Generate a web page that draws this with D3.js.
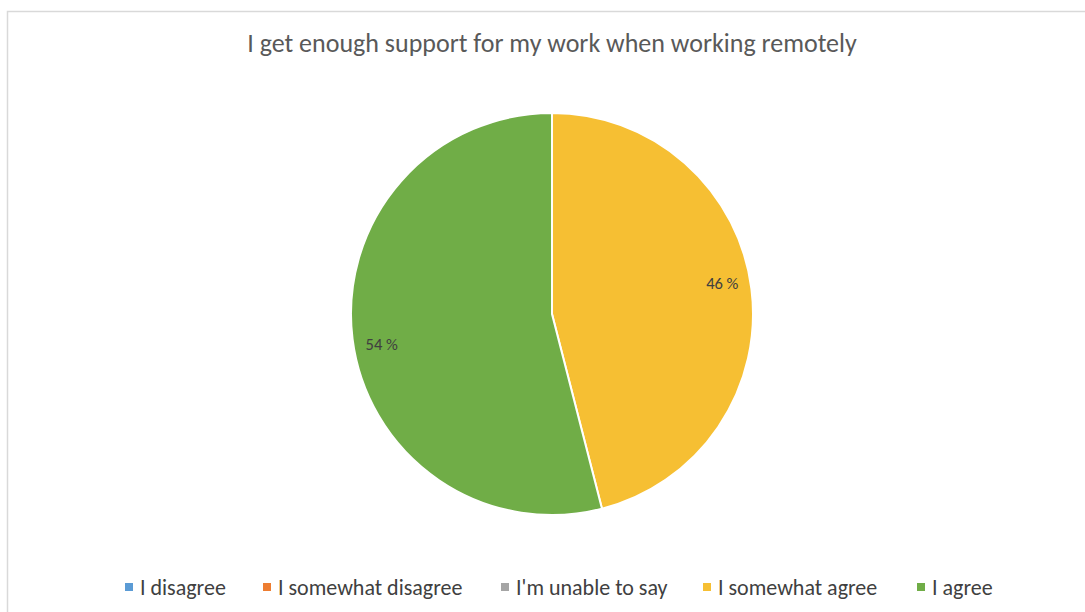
<!DOCTYPE html>
<html>
<head>
<meta charset="utf-8">
<script src="https://cdn.jsdelivr.net/npm/d3@7"></script>
<style>
  html, body { margin: 0; padding: 0; background: #fff; }
  svg { display: block; }
</style>
</head>
<body>
<svg id="chart" width="1085" height="612"></svg>
<script>
// Survey answers and their shares (%)
const categories = ["I disagree", "I somewhat disagree", "I'm unable to say", "I somewhat agree", "I agree"];
const shares = [0, 0, 0, 46, 54];
const colors = ["#5B9BD5", "#ED7D31", "#A5A5A5", "#F6BF33", "#70AD47"];
const title = "I get enough support for my work when working remotely";

const svg = d3.select("#chart");
const W = 1085, H = 612;
const font = "Carlito, 'Open Sans', 'Liberation Sans', sans-serif";

// chart area frame
svg.append("rect")
  .attr("x", 7.5).attr("y", 11.5)
  .attr("width", W + 10).attr("height", H + 10)
  .attr("fill", "#fff").attr("stroke", "#d9d9d9").attr("stroke-width", 1.5);

svg.append("text")
  .attr("x", 552).attr("y", 52)
  .attr("text-anchor", "middle")
  .attr("font-family", font).attr("font-size", 26)
  .attr("fill", "#595959")
  .text(title);

const cx = 552, cy = 314, r = 201;
const data = categories.map((c, i) => ({ c, v: shares[i], col: colors[i] }));

const pie = d3.pie().sort(null).value(d => d.v)
  .startAngle(0).endAngle(2 * Math.PI);
// yellow slice starts at 12 o'clock and runs clockwise; remaining slices follow
const ordered = [data[3], data[4], data[0], data[1], data[2]];
const arcs = pie(ordered);
const arc = d3.arc().innerRadius(0).outerRadius(r);
const g = svg.append("g").attr("transform", `translate(${cx},${cy})`);

g.selectAll("path")
  .data(arcs.filter(a => a.data.v > 0))
  .join("path")
  .attr("d", arc)
  .attr("fill", d => d.data.col)
  .attr("stroke", "#fff")
  .attr("stroke-width", 2);

// percentage labels placed near the inner edge of each slice's rim
const labelR = 173, labelShift = -3 * Math.PI / 180;
g.selectAll("text.lbl")
  .data(arcs.filter(a => a.data.v > 0))
  .join("text")
  .attr("class", "lbl")
  .attr("transform", d => {
    const a = (d.startAngle + d.endAngle) / 2 + labelShift;
    return `translate(${labelR * Math.sin(a)},${-labelR * Math.cos(a)})`;
  })
  .attr("text-anchor", "middle")
  .attr("dy", "0.35em")
  .attr("font-family", font).attr("font-size", 16.5)
  .attr("fill", "#404040")
  .text(d => d.data.v + " %");

// legend
const legendX = [125, 263, 501, 703, 917];
const lg = svg.append("g");
categories.forEach((c, i) => {
  lg.append("rect")
    .attr("x", legendX[i]).attr("y", 583)
    .attr("width", 8).attr("height", 8)
    .attr("fill", colors[i]);
  lg.append("text")
    .attr("x", legendX[i] + 15).attr("y", 595)
    .attr("font-family", font).attr("font-size", 22)
    .attr("fill", "#404040")
    .text(c);
});
</script>
</body>
</html>
